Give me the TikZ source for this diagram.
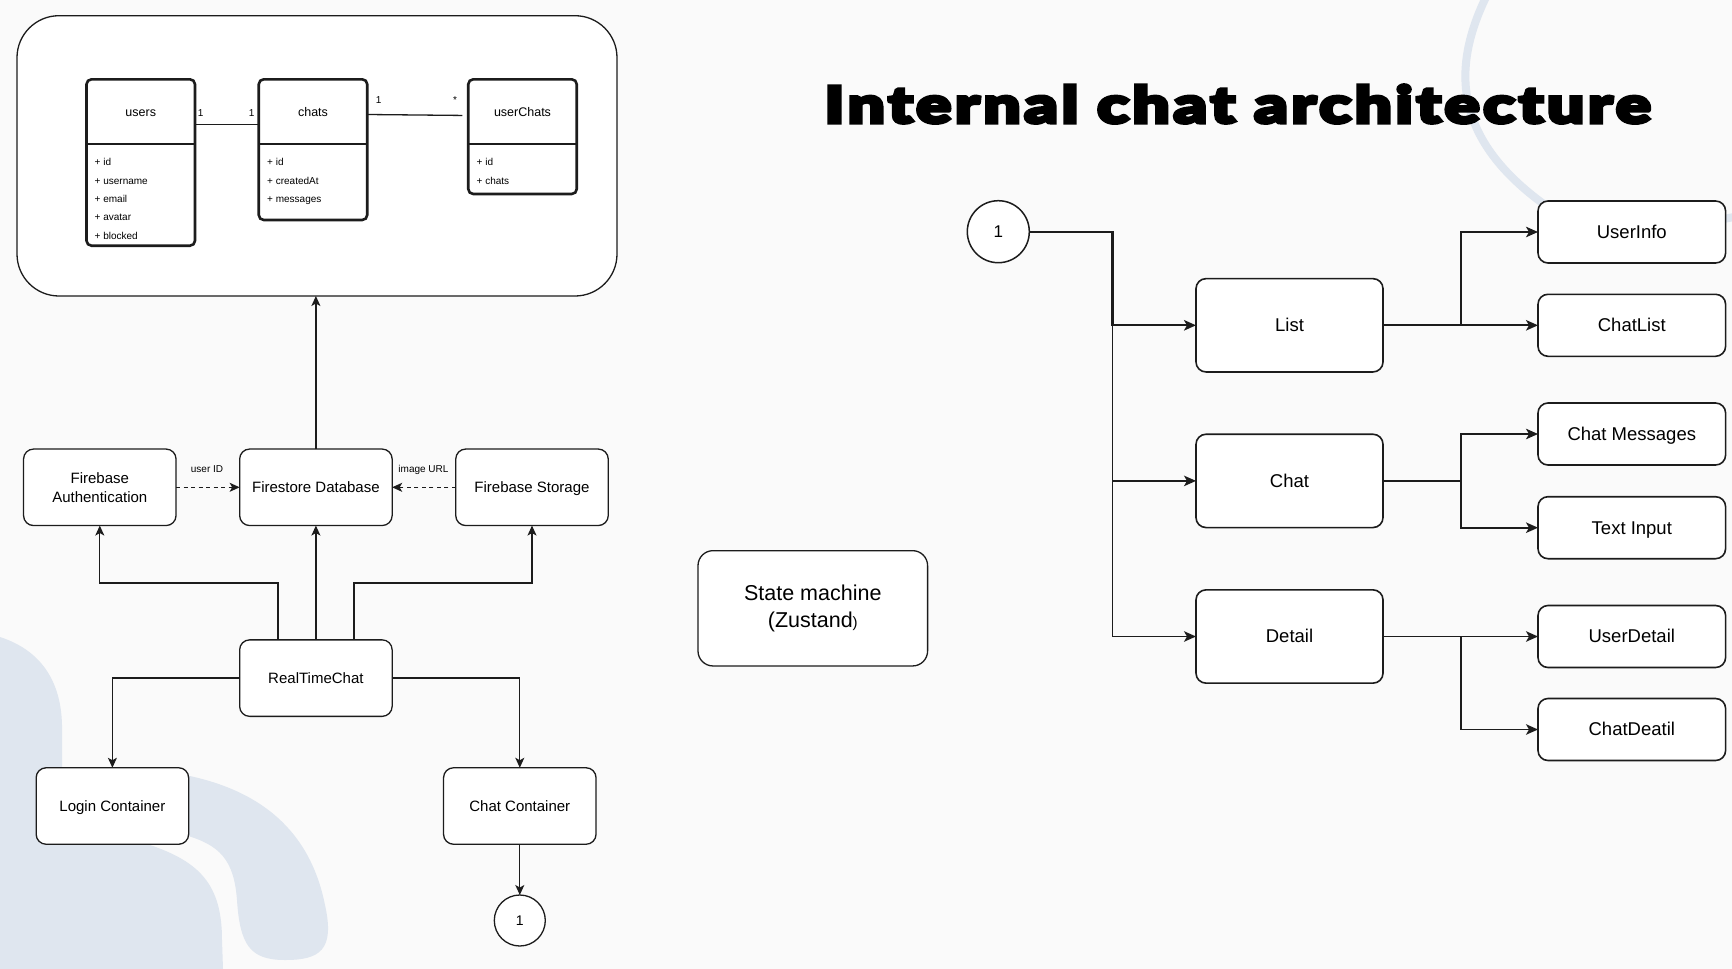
\documentclass[tikz,border=0pt]{standalone}
\usepackage{fontspec}
\setmainfont{Liberation Sans}
\IfFontExistsTF{Lato Black}
  {\newfontfamily\titlefont{Lato Black}[FakeBold=6, FakeStretch=1.3, LetterSpace=6]}
  {\newfontfamily\titlefont{Liberation Sans Bold}}
\usepackage{xcolor}
\usetikzlibrary{positioning,arrows.meta}

\definecolor{pagebg}{HTML}{FAFAFA}
\definecolor{decoblue}{HTML}{DFE6EF}
\definecolor{ink}{HTML}{1C1C1C}

\tikzset{
  box/.style={draw=ink, fill=white, rounded corners=10pt, line width=1.3pt, outer sep=0pt,
    minimum width=152.5pt, minimum height=76.5pt, inner sep=0pt, align=center,
    font=\fontsize{15}{19}\selectfont, text height=13.6pt, text depth=3.2pt},
  twoline/.style={text height={}, text depth={}},
  bigbox/.style={box, line width=1.6pt, minimum width=187pt, minimum height=93.3pt,
    font=\fontsize{18.5}{22}\selectfont, text height=16.7pt, text depth=3.9pt},
  leaf/.style={bigbox, minimum width=187.6pt, minimum height=62pt},
  endpt/.style={circle, draw=ink, fill=white, line width=1.3pt, inner sep=0pt, outer sep=0pt},
  dbframe/.style={draw=ink, fill=white, rounded corners=42pt, line width=1.3pt, inner sep=0pt, outer sep=0pt},
  tablebox/.style={draw=ink, fill=white, rounded corners=5pt, line width=2.6pt,
    minimum width=108.5pt, inner sep=0pt, outer sep=0pt},
  tabhead/.style={inner sep=0pt, font=\fontsize{12.5}{15}\selectfont, text height=11.3pt, text depth=2.7pt},
  attr/.style={inner sep=0pt, anchor=west, font=\fontsize{10}{12}\selectfont, text height=9pt, text depth=2.1pt},
  mult/.style={inner sep=0pt, anchor=base, font=\fontsize{10}{12}\selectfont},
  link/.style={draw=ink, line width=1.3pt},
  flow/.style={draw=ink, line width=1.3pt, ->},
  branch/.style={draw=ink, line width=1.7pt, -{Stealth[length=12pt,width=10.5pt,inset=3pt]}},
}

\begin{document}
\begin{tikzpicture}[x=1pt, y=-1pt, >={Stealth[length=10pt,width=9pt,inset=2.5pt]}]
\useasboundingbox (0,0) rectangle (1732,969);
\fill[pagebg] (0,0) rectangle (1732,969);

% background shapes
\fill[decoblue] (0,637) .. controls (40,650) and (61,680) .. (62,725) -- (62,770) -- (150,845)
  .. controls (200,862) and (222,885) .. (222,940) -- (223,969) -- (0,969) -- cycle;
\fill[decoblue] (185,775) .. controls (260,790) and (310,830) .. (325,905)
  .. controls (335,950) and (320,960) .. (285,960) .. controls (250,960) and (240,945) .. (237,900)
  .. controls (234,860) and (220,845) .. (185,835) -- cycle;
\draw[decoblue, line width=8pt] (1487,-5) .. controls (1450,70) and (1455,140) .. (1545,205)
  .. controls (1620,250) and (1700,222) .. (1745,215);

\node[inner sep=0pt, anchor=base west, font=\titlefont\fontsize{51}{58}\selectfont] (title) at (824,123) {Internal chat architecture};

% database schema
\node[dbframe, minimum width=600pt, minimum height=280.3pt] (dbgroup) at (317,155.85) {};

\node[tablebox, minimum height=166.4pt] (users) at (140.75,162.5) {};
\node[tablebox, minimum height=140.7pt] (chats) at (313,149.65) {};
\node[tablebox, minimum height=114.7pt] (userChats) at (522.5,136.65) {};
\foreach \t in {users,chats,userChats} {
  \draw[line width=2.6pt, draw=ink] (\t.west |- 0,144) -- (\t.east |- 0,144);
  \node[tabhead] (\t-head) at (\t.north |- 0,111.7) {\t};
}
\foreach \a [count=\i] in {id,username,email,avatar,blocked}
  \node[attr] (users-\i) at (94.5,143.7+18.45*\i) {+ \a};
\foreach \a [count=\i] in {id,createdAt,messages}
  \node[attr] (chats-\i) at (267,143.7+18.45*\i) {+ \a};
\foreach \a [count=\i] in {id,chats}
  \node[attr] (userChats-\i) at (476.5,143.7+18.45*\i) {+ \a};

\draw[link] (users.east |- 0,124.3) -- (chats.west |- 0,124.3);
\draw[link, shorten >=6pt] (chats.east |- 0,114.5) -- (userChats.west |- 0,115.5);
\node[mult] (m1) at (200.7,116.3) {1};
\node[mult] (m2) at (251.7,116.3) {1};
\node[mult] (m3) at (378.6,103) {1};
\node[mult] (m4) at (455,103) {*};

% firebase services
\node[box, twoline] (auth) at (99.8,487.3) {Firebase\\Authentication};
\node[box, right=63.6pt of auth] (firestore) {Firestore Database};
\node[box, right=63.6pt of firestore] (storage) {Firebase Storage};
\node[box, below=114.3pt of firestore] (rtc) {RealTimeChat};
\node[box] (login) at (112.4,806) {Login Container};
\node[box] (chatbox) at (519.8,806) {Chat Container};
\node[endpt, minimum size=51pt, font=\fontsize{14}{16}\selectfont] (c1) at (519.8,920.5) {1};

\draw[flow, dash pattern=on 4pt off 3.5pt] (auth) -- (firestore);
\draw[flow, dash pattern=on 4pt off 3.5pt] (storage) -- (firestore);
\node[mult] (uid) at (207,472.6) {user ID};
\node[mult] (url) at (423.5,472.6) {image URL};
\draw[flow] (firestore) -- (firestore.north |- dbgroup.south);
\draw[flow] ([xshift=-38pt]rtc.north) -- ++(0,-57) -| (auth.south);
\draw[flow] (rtc) -- (firestore);
\draw[flow] ([xshift=38pt]rtc.north) -- ++(0,-57) -| (storage.south);
\draw[flow] (rtc.west) -| (login.north);
\draw[flow] (rtc.east) -| (chatbox.north);
\draw[flow] (chatbox) -- (c1);

\node[box, twoline, minimum width=229.6pt, minimum height=115.3pt, rounded corners=15pt,
  font=\fontsize{21.5}{26.7}\selectfont] (zustand) at (812.8,608.3) {State machine\\(Zustand{\fontsize{15}{15}\selectfont)}};

% component tree
\node[endpt, line width=1.5pt, minimum size=62pt, font=\fontsize{17}{19}\selectfont] (c2) at (998.3,231.7) {1};
\coordinate (bus) at (1112.5,231.7);
\node[bigbox] (list) at (1289.5,325.3) {List};
\node[bigbox, below=62.3pt of list] (chat) {Chat};
\node[bigbox, below=62.3pt of chat] (detail) {Detail};

\node[leaf, right=155pt of list] (chatlist) {ChatList};
\node[leaf, above=31.3pt of chatlist] (userinfo) {UserInfo};
\node[leaf] (chatmsg) at (1631.8,434) {Chat Messages};
\node[leaf, below=31.7pt of chatmsg] (textin) {Text Input};
\node[leaf, right=155pt of detail] (userdetail) {UserDetail};
\node[leaf, below=31pt of userdetail] (chatdetail) {ChatDeatil};

\draw[branch, line width=2.2pt] (c2) -- (bus) |- (list);
\draw[branch] (bus) |- (chat);
\draw[branch] (bus) |- (detail);
\draw[branch] (list.east) -- ++(78,0) |- (userinfo);
\draw[branch] (list) -- (chatlist);
\draw[branch] (chat.east) -- ++(78,0) |- (chatmsg);
\draw[branch] (chat.east) -- ++(78,0) |- (textin);
\draw[branch] (detail) -- (userdetail);
\draw[branch] (detail.east) -- ++(78,0) |- (chatdetail);
\end{tikzpicture}
\end{document}
